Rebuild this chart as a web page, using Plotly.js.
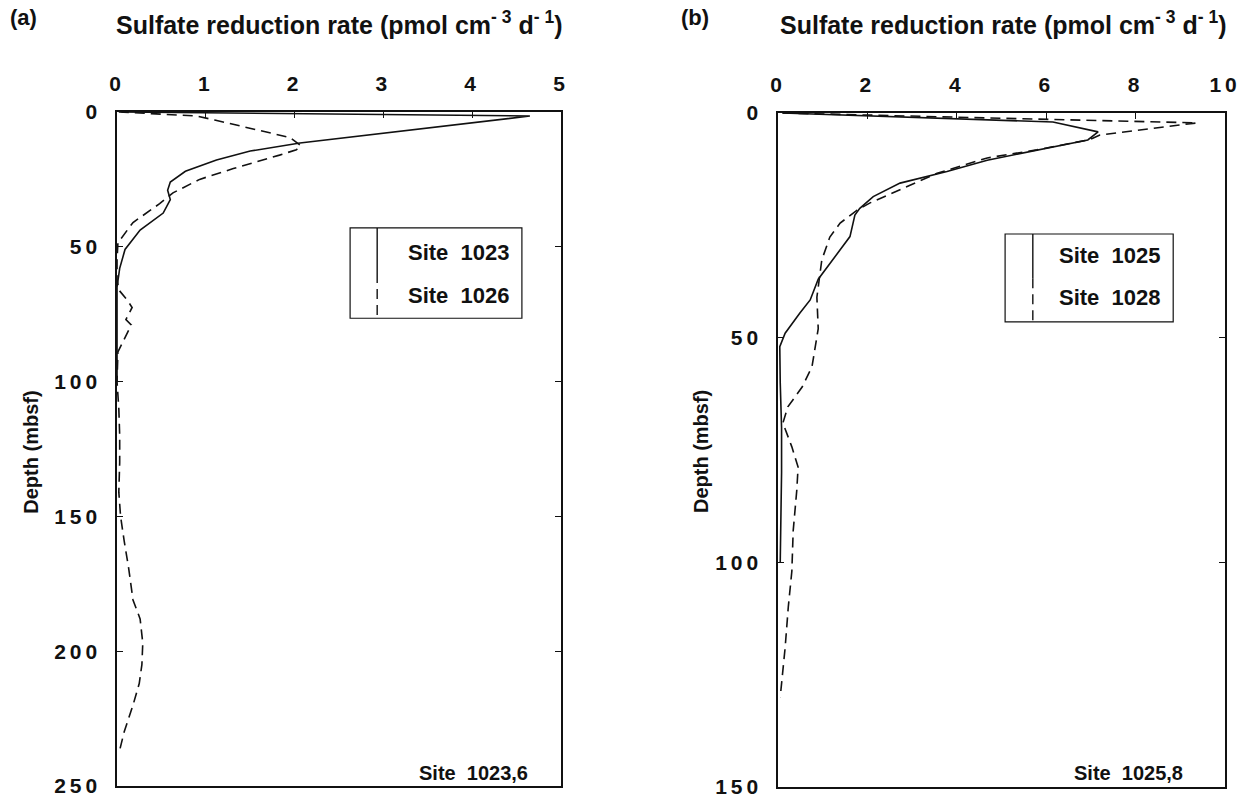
<!DOCTYPE html>
<html>
<head>
<meta charset="utf-8">
<script src="https://cdn.plot.ly/plotly-3.0.1.min.js"></script>
<style>
  html, body { margin: 0; padding: 0; background: #fff; }
  #chart { width: 1253px; height: 805px; }
  g.xtick text, g.x2tick text, g.ytick text, g.y2tick text { letter-spacing: 4px; }
</style>
</head>
<body>
<div id="chart"></div>
<script>
// ---- Data ----
// Panel (a): Sites 1023 and 1026
const depth1023 = [0, 1.5, 11.5, 14.5, 17.8, 22, 26, 29, 32.5, 37.5, 43.8, 51, 58, 65, 80, 100];
const rate1023  = [0.05, 4.65, 2.06, 1.5, 1.12, 0.77, 0.6, 0.57, 0.6, 0.52, 0.26, 0.09, 0.03, 0.0, 0.0, 0.0];

const depth1026 = [0, 1.5, 3, 9.5, 12.5, 14, 16, 21, 25, 30, 34, 41, 48.5, 55, 62, 66, 70, 72.5, 77, 79, 85, 89, 100, 110, 120, 130, 141, 150, 159, 169, 181, 188, 197, 205, 212, 220, 230, 238];
const rate1026  = [0.02, 0.9, 1.1, 1.95, 2.07, 2.02, 1.83, 1.31, 0.93, 0.63, 0.48, 0.18, 0.01, 0, 0, 0.02, 0.12, 0.17, 0.1, 0.16, 0.07, 0.01, 0, 0.02, 0.03, 0.03, 0.02, 0.04, 0.08, 0.13, 0.18, 0.26, 0.29, 0.28, 0.25, 0.18, 0.08, 0.02];

// Panel (b): Sites 1025 and 1028
const depth1025 = [0, 2, 4.2, 6, 10.5, 13, 15.6, 18.6, 21.2, 22.7, 27.5, 32.7, 37, 41.6, 44.5, 49, 52, 60, 70, 80, 90, 100];
const rate1025  = [0.1, 6.15, 7.16, 6.93, 4.68, 3.78, 2.73, 2.13, 1.83, 1.72, 1.61, 1.23, 0.9, 0.72, 0.49, 0.16, 0.04, 0.05, 0.08, 0.08, 0.07, 0.05];

const depth1028 = [0, 2.2, 4.9, 5.9, 8.2, 10, 13.4, 17.1, 20, 21.6, 24.5, 27.6, 32.7, 41, 48, 56.5, 61, 65.4, 69, 74.3, 78.8, 84, 93, 102, 110, 119, 125.5, 130];
const rate1028  = [0.1, 9.37, 7.2, 6.98, 5.79, 4.68, 3.56, 2.73, 2.06, 1.77, 1.39, 1.16, 0.98, 0.87, 0.9, 0.76, 0.54, 0.22, 0.11, 0.31, 0.45, 0.42, 0.34, 0.31, 0.23, 0.16, 0.09, 0.05];

// Axis ticks
const xTicksA = [0, 1, 2, 3, 4, 5];
const yTicksA = [0, 50, 100, 150, 200, 250];
const xTicksB = [0, 2, 4, 6, 8, 10];
const yTicksB = [0, 50, 100, 150];

// Text
const xTitle = 'Sulfate reduction rate (pmol cm<sup>- 3</sup> d<sup>- 1</sup>)';
const yTitle = 'Depth (mbsf)';
const legendA = ['Site  1023', 'Site  1026'];
const legendB = ['Site  1025', 'Site  1028'];
const siteNoteA = 'Site  1023,6';
const siteNoteB = 'Site  1025,8';

// ---- Styling ----
const FONT = 'Liberation Sans, Arial, Helvetica, sans-serif';
const NARROW = 'Liberation Sans Narrow, Arial Narrow, Liberation Sans, sans-serif';
const solid = {color: '#111', width: 1.6, dash: 'solid'};
const dashed = {color: '#111', width: 1.6, dash: '10px,6px'};

const traces = [
  {x: rate1023, y: depth1023, xaxis: 'x', yaxis: 'y', mode: 'lines', line: solid, name: 'Site 1023'},
  {x: rate1026, y: depth1026, xaxis: 'x', yaxis: 'y', mode: 'lines', line: dashed, name: 'Site 1026'},
  {x: rate1025, y: depth1025, xaxis: 'x2', yaxis: 'y2', mode: 'lines', line: solid, name: 'Site 1025'},
  {x: rate1028, y: depth1028, xaxis: 'x2', yaxis: 'y2', mode: 'lines', line: dashed, name: 'Site 1028'}
];

const tickFont = {family: FONT, size: 21, color: '#111', weight: 'bold'};

function xAxis(domain, range, ticks, anchor) {
  return {
    domain: domain, range: range, side: 'top', anchor: anchor,
    tickmode: 'array', tickvals: ticks,
    ticks: 'inside', ticklen: 6, tickwidth: 1.2, tickcolor: '#111',
    showline: true, linecolor: '#111', linewidth: 1.6, mirror: true,
    showgrid: false, zeroline: false,
    ticklabelstandoff: 11,
    tickfont: tickFont
  };
}
function yAxis(domain, range, ticks, anchor) {
  return {
    domain: domain, range: range, anchor: anchor,
    tickmode: 'array', tickvals: ticks,
    ticks: 'inside', ticklen: 6, tickwidth: 1.2, tickcolor: '#111',
    showline: true, linecolor: '#111', linewidth: 1.6, mirror: 'ticks',
    showgrid: false, zeroline: false,
    ticklabelstandoff: 10,
    tickfont: tickFont
  };
}

function legendShapes(xr, yr, box, vx, ymid) {
  return [
    {type: 'rect', xref: xr, yref: yr, x0: box[0], x1: box[1], y0: box[2], y1: box[3],
     line: {color: '#111', width: 1.2}, fillcolor: 'rgba(0,0,0,0)'},
    {type: 'line', xref: xr, yref: yr, x0: vx, x1: vx, y0: box[3], y1: ymid,
     line: {color: '#111', width: 1.4}},
    {type: 'line', xref: xr, yref: yr, x0: vx, x1: vx, y0: ymid, y1: box[2],
     line: {color: '#111', width: 1.4, dash: '10px,6px'}}
  ];
}

const labFont = {family: FONT, size: 22, color: '#111', weight: 'bold'};
const legFont = {family: FONT, size: 22, color: '#111', weight: 'bold'};
const noteFont = {family: NARROW, size: 20, color: '#111', weight: 'bold'};
const axFont = {family: FONT, size: 20, color: '#111', weight: 'bold'};
const titleFont = {family: FONT, size: 25, color: '#111', weight: 'bold'};

const annotations = [
  {text: '(a)', xref: 'paper', yref: 'paper', x: 0.006, y: 0.978, xanchor: 'left', yanchor: 'middle', showarrow: false, font: labFont},
  {text: '(b)', xref: 'paper', yref: 'paper', x: 0.542, y: 0.978, xanchor: 'left', yanchor: 'middle', showarrow: false, font: labFont},
  {text: xTitle, xref: 'paper', yref: 'paper', x: 0.2705, y: 0.971, xanchor: 'center', yanchor: 'middle', showarrow: false, font: titleFont},
  {text: xTitle, xref: 'paper', yref: 'paper', x: 0.8005, y: 0.971, xanchor: 'center', yanchor: 'middle', showarrow: false, font: titleFont},
  {text: yTitle, xref: 'paper', yref: 'paper', x: 0.0245, y: 0.4385, xanchor: 'center', yanchor: 'middle', textangle: -90, showarrow: false, font: axFont},
  {text: yTitle, xref: 'paper', yref: 'paper', x: 0.5595, y: 0.4385, xanchor: 'center', yanchor: 'middle', textangle: -90, showarrow: false, font: axFont},
  // legends
  {text: legendA[0], xref: 'x domain', yref: 'y domain', x: 0.89, y: 0.792, xanchor: 'right', yanchor: 'middle', showarrow: false, font: legFont},
  {text: legendA[1], xref: 'x domain', yref: 'y domain', x: 0.89, y: 0.727, xanchor: 'right', yanchor: 'middle', showarrow: false, font: legFont},
  {text: legendB[0], xref: 'x2 domain', yref: 'y2 domain', x: 0.861, y: 0.789, xanchor: 'right', yanchor: 'middle', showarrow: false, font: legFont},
  {text: legendB[1], xref: 'x2 domain', yref: 'y2 domain', x: 0.861, y: 0.726, xanchor: 'right', yanchor: 'middle', showarrow: false, font: legFont},
  // site notes
  {text: siteNoteA, xref: 'x domain', yref: 'y domain', x: 0.93, y: 0.019, xanchor: 'right', yanchor: 'middle', showarrow: false, font: noteFont},
  {text: siteNoteB, xref: 'x2 domain', yref: 'y2 domain', x: 0.91, y: 0.021, xanchor: 'right', yanchor: 'middle', showarrow: false, font: noteFont}
];

const shapes = [].concat(
  legendShapes('x domain', 'y domain', [0.525, 0.912, 0.694, 0.828], 0.586, 0.761),
  legendShapes('x2 domain', 'y2 domain', [0.508, 0.884, 0.690, 0.8205], 0.570, 0.755)
);

const layout = {
  width: 1253, height: 805,
  margin: {l: 0, r: 0, t: 0, b: 0},
  paper_bgcolor: '#fff', plot_bgcolor: '#fff',
  showlegend: false,
  xaxis: xAxis([0.0934, 0.4477], [0, 5], xTicksA, 'y'),
  yaxis: yAxis([0.0236, 0.8609], [250, 0], yTicksA, 'x'),
  xaxis2: xAxis([0.6209, 0.9777], [0, 10], xTicksB, 'y2'),
  yaxis2: yAxis([0.0224, 0.8596], [150, 0], yTicksB, 'x2'),
  annotations: annotations,
  shapes: shapes
};

Plotly.newPlot('chart', traces, layout, {staticPlot: true, displayModeBar: false});
</script>
</body>
</html>
